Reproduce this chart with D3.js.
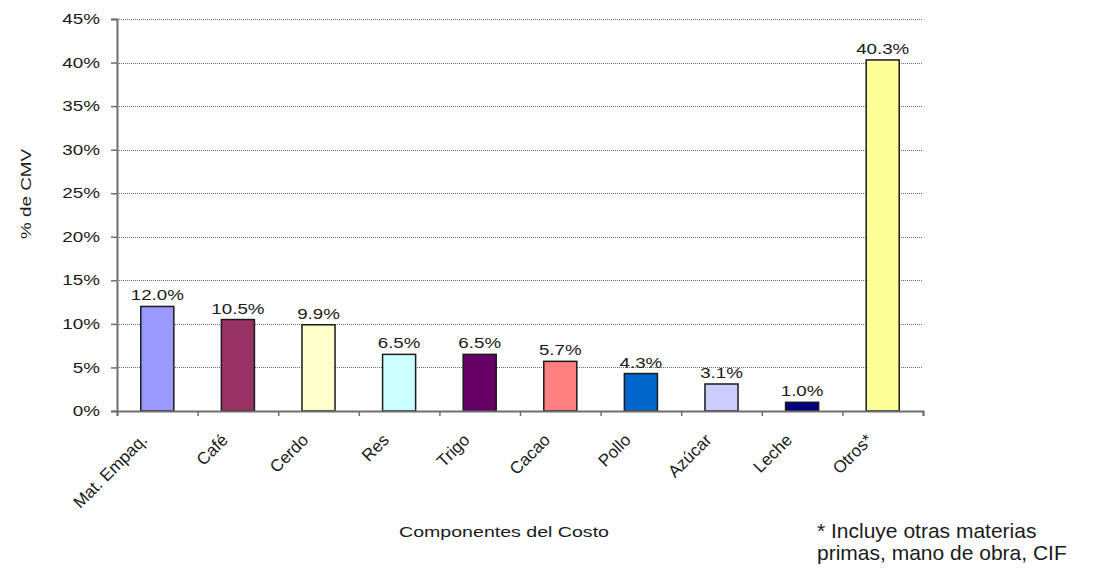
<!DOCTYPE html>
<html>
<head>
<meta charset="utf-8">
<script src="https://cdn.jsdelivr.net/npm/d3@7"></script>
<style>
  html, body { margin: 0; padding: 0; background: #fff; }
  svg { display: block; font-family: "Liberation Sans", Arial, sans-serif; }
</style>
</head>
<body>
<svg id="chart" width="1093" height="569"></svg>
<script>
const categories = ["Mat. Empaq.", "Café", "Cerdo", "Res", "Trigo", "Cacao", "Pollo", "Azúcar", "Leche", "Otros*"];
const values = [0.120, 0.105, 0.099, 0.065, 0.065, 0.057, 0.043, 0.031, 0.010, 0.403];
const colors = ["#9999FF", "#993366", "#FFFFCC", "#CCFFFF", "#660066", "#FF8080", "#0066CC", "#CCCCFF", "#000080", "#FFFF99"];
const yTicks = [0, 0.05, 0.10, 0.15, 0.20, 0.25, 0.30, 0.35, 0.40, 0.45];
const yTitle = "% de CMV";
const xTitle = "Componentes del Costo";
const footnote = ["* Incluye otras materias", "primas, mano de obra, CIF"];

const svg = d3.select("#chart");
const X0 = 117, X1 = 923, Y0 = 411, Y1 = 19;
const SX = 1.3; // horizontal stretch of chart text
const textColor = "#1a1a1a";

const x = d3.scaleBand().domain(categories).range([X0, X1]).padding(0);
const y = d3.scaleLinear().domain([0, 0.45]).range([Y0, Y1]);
const barFrac = 0.41;
const bw = x.bandwidth() * barFrac;
const pct = d3.format(".1%");
const tickFmt = d3.format(".0%");

// gridlines
svg.append("g").selectAll("line").data(yTicks.filter(d => d > 0)).join("line")
  .attr("x1", X0).attr("x2", X1)
  .attr("y1", d => Math.round(y(d)) + 0.5).attr("y2", d => Math.round(y(d)) + 0.5)
  .attr("stroke", "#6a6a6a").attr("stroke-width", 1).attr("stroke-dasharray", "1,1");

// bars
svg.append("g").selectAll("rect").data(categories).join("rect")
  .attr("x", d => x(d) + (x.bandwidth() - bw) / 2)
  .attr("width", bw)
  .attr("y", (d, i) => y(values[i]))
  .attr("height", (d, i) => Y0 - y(values[i]))
  .attr("fill", (d, i) => colors[i])
  .attr("stroke", "#1a1a1a").attr("stroke-width", 1.5);

// y axis
const yAxis = d3.axisLeft(y).tickValues(yTicks).tickFormat(tickFmt).tickSize(6).tickPadding(11);
const gy = svg.append("g").attr("transform", `translate(${X0},0)`).call(yAxis);
gy.select(".domain").attr("stroke", "#6e6e6e").attr("stroke-width", 2);
gy.selectAll(".tick line").attr("stroke", "#6e6e6e").attr("stroke-width", 1.5);
gy.selectAll(".tick text").attr("font-size", 14.5).attr("fill", textColor)
  .attr("font-family", "Liberation Sans, Arial, sans-serif")
  .each(function () {
    const t = d3.select(this);
    const xx = +t.attr("x");
    t.attr("x", null).attr("transform", `translate(${xx},0) scale(${SX},1)`);
  });

// x axis
const xTickScale = d3.scaleLinear().domain([0, categories.length]).range([X0, X1]);
const xAxis = d3.axisBottom(xTickScale).tickValues(d3.range(0, categories.length + 1)).tickFormat("").tickSize(5);
const gx = svg.append("g").attr("transform", `translate(0,${Y0})`).call(xAxis);
gx.select(".domain").attr("stroke", "#6e6e6e").attr("stroke-width", 2);
gx.selectAll(".tick line").attr("stroke", "#6e6e6e").attr("stroke-width", 1.5);

// category labels
svg.append("g").selectAll("text").data(categories).join("text")
  .attr("transform", d => `translate(${x(d) + x.bandwidth() / 2 - 9},${Y0 + 30}) rotate(-45)`)
  .attr("text-anchor", "end")
  .attr("font-size", 17).attr("fill", textColor)
  .text(d => d);

// value labels
svg.append("g").selectAll("text").data(categories).join("text")
  .attr("transform", (d, i) => `translate(${x(d) + x.bandwidth() / 2},${y(values[i]) - 6}) scale(1.25,1)`)
  .attr("text-anchor", "middle")
  .attr("font-size", 15).attr("fill", textColor)
  .text((d, i) => pct(values[i]));

// y title
svg.append("text")
  .attr("transform", `translate(31,194) rotate(-90)`)
  .attr("text-anchor", "middle")
  .attr("font-size", 14).attr("fill", textColor)
  .attr("textLength", 90).attr("lengthAdjust", "spacingAndGlyphs")
  .text(yTitle);

// x title
svg.append("text")
  .attr("transform", `translate(504,537) scale(1.35,1)`)
  .attr("text-anchor", "middle")
  .attr("font-size", 14.5).attr("fill", textColor)
  .text(xTitle);

// footnote
svg.append("g").selectAll("text").data(footnote).join("text")
  .attr("x", 817).attr("y", (d, i) => 538 + i * 22)
  .attr("font-size", 21).attr("fill", textColor)
  .text(d => d);
</script>
</body>
</html>
